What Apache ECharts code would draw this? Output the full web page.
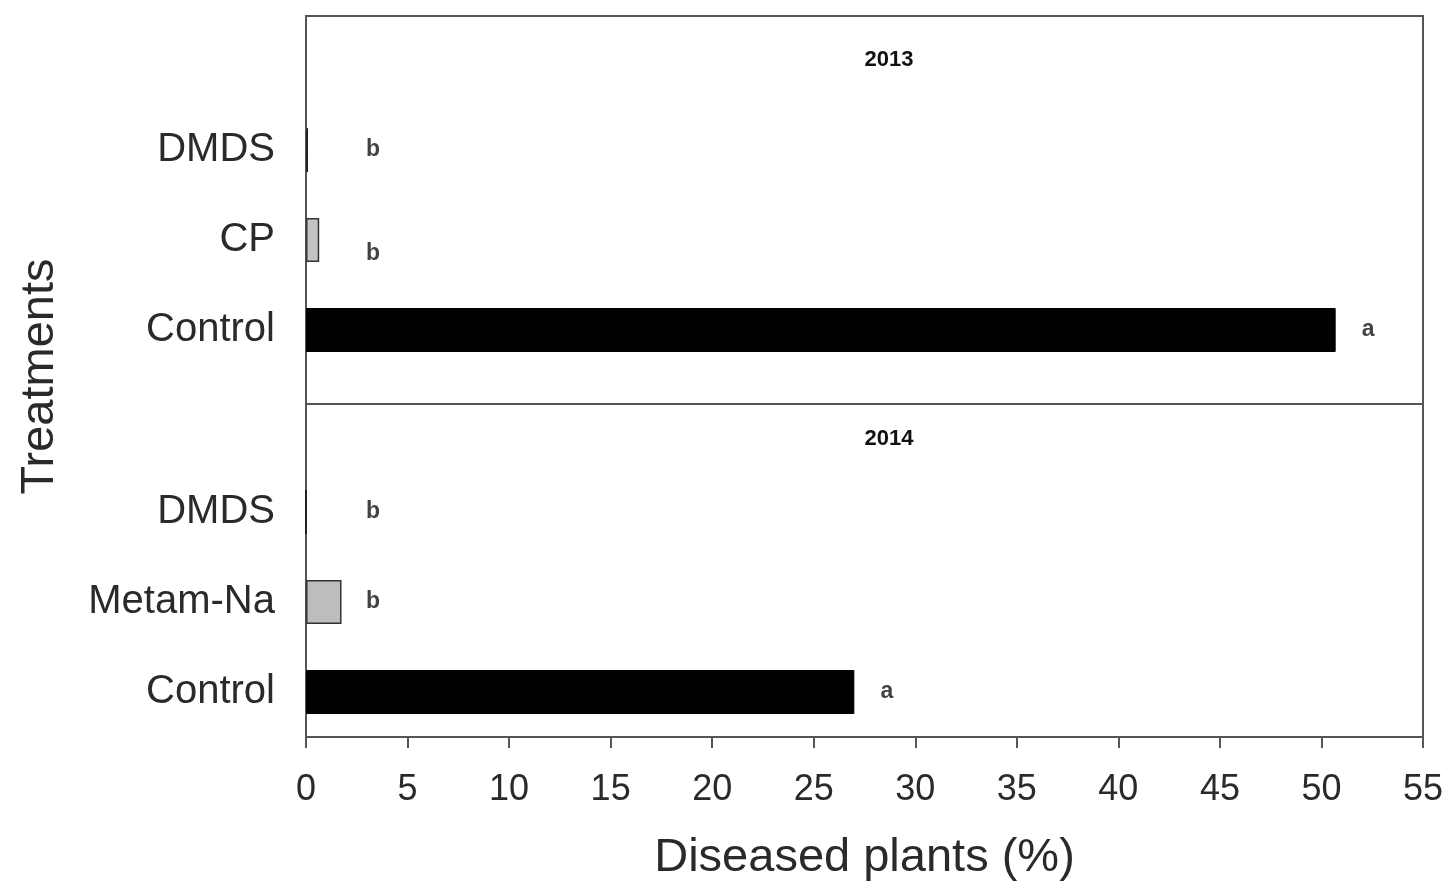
<!DOCTYPE html>
<html>
<head>
<meta charset="utf-8">
<script src="https://cdn.jsdelivr.net/npm/echarts@6/dist/echarts.min.js"></script>
<style>html,body{margin:0;padding:0;background:#fff;}#c{width:1451px;height:888px;}</style>
</head>
<body>
<div id="c"></div>
<script>
// ---- data ----
const cats2013 = ['Control', 'CP', 'DMDS'];
const vals2013 = [50.7, 0.65, 0.1];
const letters2013 = ['a', 'b', 'b'];
const letterX2013 = [52.3, 3.3, 3.3];

const cats2014 = ['Control', 'Metam-Na', 'DMDS'];
const vals2014 = [27.0, 1.75, 0];
const letters2014 = ['a', 'b', 'b'];
const letterX2014 = [28.6, 3.3, 3.3];

const years = ['2013', '2014'];
const xTicks = [0, 55, 5];

// ---- styles ----
const fills = {
  'Control': { color: '#000', borderColor: '#000', borderWidth: 1 },
  'CP': { color: '#c4c4c4', borderColor: '#333', borderWidth: 1.5 },
  'Metam-Na': { color: '#bdbdbd', borderColor: '#333', borderWidth: 1.5 },
  'DMDS': { color: '#fff', borderColor: '#222', borderWidth: 2, borderType: 'dashed' }
};
const textCol = '#2a2a2a';
const frameCol = '#555';

function barData(cats, vals) {
  return vals.map((v, i) => ({ value: v, itemStyle: fills[cats[i]] }));
}
function letterData(cats, xs, letters) {
  return xs.map((x, i) => ({ value: [x, cats[i]], name: letters[i],
    label: { offset: (cats[i] === 'CP') ? [0, 14] : [0, 0] } }));
}

const L = 306, W = 1117;
const letterLabel = { show: true, position: 'inside', formatter: p => p.name, fontSize: 23,
  fontWeight: 'bold', color: '#111', fontFamily: 'Liberation Sans' };
const chart = echarts.init(document.getElementById('c'));
chart.setOption({
  animation: false,
  backgroundColor: '#fff',
  title: [
    { text: years[0], left: 884, top: 44, textAlign: 'center',
      textStyle: { fontSize: 22, fontWeight: 'bold', color: '#111', fontFamily: 'Liberation Sans' } },
    { text: years[1], left: 884, top: 423, textAlign: 'center',
      textStyle: { fontSize: 22, fontWeight: 'bold', color: '#111', fontFamily: 'Liberation Sans' } }
  ],
  grid: [
    { left: L, width: W, top: 105, height: 270 },            // 0: 2013 data
    { left: L, width: W, top: 467, height: 270 },            // 1: 2014 data
    { left: L, width: W, top: 16, height: 388, show: true, borderColor: frameCol, borderWidth: 2, backgroundColor: 'transparent' }, // 2 frame top
    { left: L, width: W, top: 404, height: 333, show: true, borderColor: frameCol, borderWidth: 2, backgroundColor: 'transparent' }, // 3 frame bottom
    { left: L, width: W, top: 16, height: 721 }              // 4 axis title holder
  ],
  xAxis: [
    { gridIndex: 0, type: 'value', min: xTicks[0], max: xTicks[1], interval: xTicks[2], show: false },
    { gridIndex: 1, type: 'value', min: xTicks[0], max: xTicks[1], interval: xTicks[2],
      name: 'Diseased plants (%)', nameLocation: 'middle', nameGap: 98,
      nameTextStyle: { fontSize: 47, color: textCol, fontFamily: 'Liberation Sans' },
      axisLine: { show: true, lineStyle: { color: frameCol, width: 2 } },
      axisTick: { show: true, inside: false, length: 11, lineStyle: { color: frameCol, width: 2 } },
      axisLabel: { fontSize: 36, color: textCol, margin: 35, fontFamily: 'Liberation Sans' },
      splitLine: { show: false } },
    { gridIndex: 2, type: 'value', show: false },
    { gridIndex: 3, type: 'value', show: false },
    { gridIndex: 4, type: 'value', show: false }
  ],
  yAxis: [
    { gridIndex: 0, type: 'category', data: cats2013,
      axisLine: { show: false }, axisTick: { show: false },
      axisLabel: { fontSize: 40, color: textCol, margin: 31, fontFamily: 'Liberation Sans' } },
    { gridIndex: 1, type: 'category', data: cats2014,
      axisLine: { show: false }, axisTick: { show: false },
      axisLabel: { fontSize: 40, color: textCol, margin: 31, fontFamily: 'Liberation Sans' } },
    { gridIndex: 2, type: 'value', show: false },
    { gridIndex: 3, type: 'value', show: false },
    { gridIndex: 4, type: 'value', name: 'Treatments', nameLocation: 'middle', nameGap: 242,
      nameTextStyle: { fontSize: 47, color: textCol, fontFamily: 'Liberation Sans' },
      axisLine: { show: false }, axisTick: { show: false }, axisLabel: { show: false }, splitLine: { show: false } }
  ],
  series: [
    { type: 'bar', xAxisIndex: 0, yAxisIndex: 0, barWidth: 44, data: barData(cats2013, vals2013) },
    { type: 'bar', xAxisIndex: 1, yAxisIndex: 1, barWidth: 44, data: barData(cats2014, vals2014) },
    { type: 'scatter', xAxisIndex: 0, yAxisIndex: 0, symbolSize: 0,
      data: letterData(cats2013, letterX2013, letters2013), label: letterLabel },
    { type: 'scatter', xAxisIndex: 1, yAxisIndex: 1, symbolSize: 0,
      data: letterData(cats2014, letterX2014, letters2014), label: letterLabel }
  ]
});
</script>
</body>
</html>
